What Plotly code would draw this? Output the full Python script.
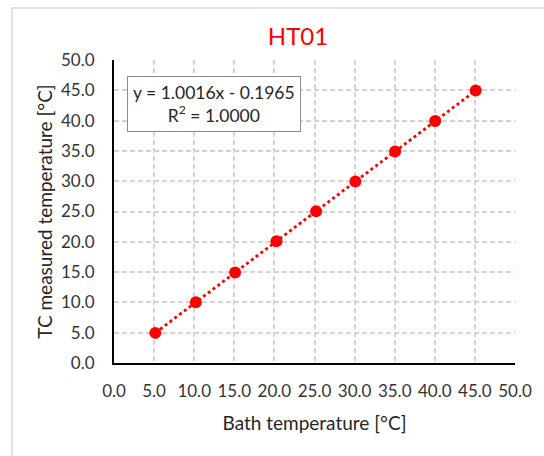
import numpy as np
import plotly.graph_objects as go

# Data
bath_temp = [5.15, 10.2, 15.1, 20.25, 25.2, 30.1, 35.05, 40.05, 45.1]
tc_temp = [4.97, 10.02, 14.93, 20.09, 25.04, 29.95, 34.91, 39.92, 44.97]
tick_vals = [0, 5, 10, 15, 20, 25, 30, 35, 40, 45, 50]
tick_text = [f"{v:.1f}" for v in tick_vals]
title_text = "HT01"
x_title = "Bath temperature [°C]"
y_title = "TC measured temperature [°C]"
eq_text = "y = 1.0016x - 0.1965<br>R<sup>2</sup> = 1.0000"

FONT = "Lato, 'Liberation Sans', sans-serif"
RED = "#ff0000"

# Linear trendline fitted from the data
slope, intercept = np.polyfit(bath_temp, tc_temp, 1)
tx = [min(bath_temp), max(bath_temp)]
ty = [slope * v + intercept for v in tx]

fig = go.Figure()
fig.add_trace(go.Scatter(x=tx, y=ty, mode="lines",
                         line=dict(color=RED, width=2.8, dash="dot"),
                         hoverinfo="skip", showlegend=False))
fig.add_trace(go.Scatter(x=bath_temp, y=tc_temp, mode="markers",
                         marker=dict(color=RED, size=12),
                         showlegend=False))

axis_common = dict(
    range=[0, 50], tickmode="array", tickvals=tick_vals, ticktext=tick_text,
    showgrid=True, gridcolor="#d4d4d4", griddash="5px,3px", gridwidth=1.5,
    zeroline=False, showline=True, linecolor="black", linewidth=2,
    ticks="", tickfont=dict(family=FONT, size=17, color="#333333"),
    title_font=dict(family=FONT, size=19, color="#262626"),
)

fig.update_layout(
    width=544, height=456,
    margin=dict(l=114, r=21, t=60, b=93),
    paper_bgcolor="white", plot_bgcolor="white",
    title=dict(text=title_text, x=(298) / 544, xanchor="center",
               y=1 - 37 / 456, yanchor="middle",
               font=dict(family=FONT, size=24, color=RED)),
    xaxis=dict(**axis_common, title=dict(text=x_title, standoff=16),
               ticklabelstandoff=12),
    yaxis=dict(**axis_common, title=dict(text=y_title, standoff=3),
               ticklabelstandoff=14),
    annotations=[dict(
        text=eq_text, x=(215.5 - 114) / 409, y=(363 - 104) / 303,
        xref="paper", yref="paper", xanchor="center", yanchor="middle",
        showarrow=False, align="center",
        font=dict(family=FONT, size=17.5, color="#262626"),
        bgcolor="white", bordercolor="#8c8c8c", borderwidth=1, borderpad=5,
    )],
    shapes=[dict(type="rect", xref="paper", yref="paper",
                 x0=(10 - 114) / 409, x1=(560 - 114) / 409,
                 y0=(363 - 470) / 303, y1=(363 - 8) / 303,
                 line=dict(color="#d9d9d9", width=1.5), layer="below")],
)

fig.write_html("out.html")
